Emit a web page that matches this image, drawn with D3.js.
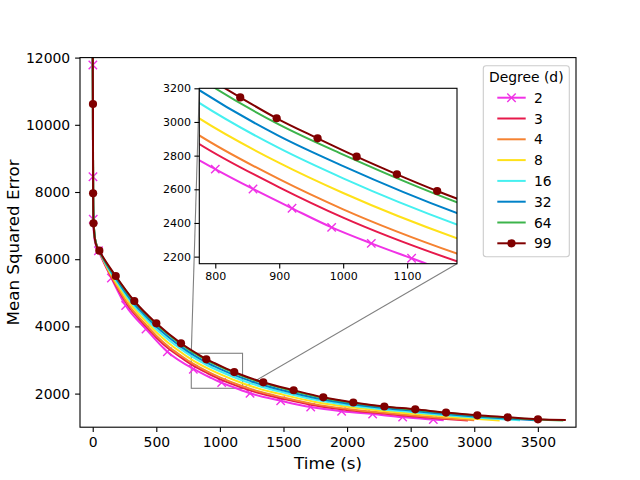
<!DOCTYPE html>
<html><head><meta charset="utf-8">
<script src="https://cdn.jsdelivr.net/npm/d3@7"></script>
<style>body{margin:0;background:#fff} svg{font-family:"DejaVu Sans",sans-serif}</style>
</head><body><svg id="c" width="640" height="480"></svg>
<script>
// ---------- data ----------
const degrees = ["2","3","4","8","16","32","64","99"];
const colors  = ["#f032e6","#e6194b","#f58231","#ffe119","#46f0f0","#0082c8","#3cb44b","#800000"];
const xTicks = [0,500,1000,1500,2000,2500,3000,3500];
const yTicks = [2000,4000,6000,8000,10000,12000];
const insetXTicks = [800,900,1000,1100];
const insetYTicks = [2200,2400,2600,2800,3000,3200];

// [time (s), MSE]
const mse_d2 = [[0,12400],[1,11780],[2,8455],[4,7187],[10,6750],[20,6480],[45,6250],[147,5440],[259,4620],[419,3923],[587,3247],[800,2720],[859,2602],[920,2487],[982,2374],[1044,2279],[1107,2190],[1237,2010],[1478,1789],[1714,1600],[1957,1475],[2201,1390],[2437,1300],[2678,1228],[2760,1205]];
const mse_d3 = [[0,12400],[2,9500],[4,7600],[8,7080],[15,6700],[25,6480],[50,6260],[100,5815],[200,5097],[300,4503],[400,4079],[500,3672],[600,3328],[700,3062],[775,2869],[900,2612],[1000,2432],[1178,2172],[1300,2024],[1500,1842],[1750,1643],[2000,1515],[2250,1419],[2500,1329],[2750,1252],[2950,1199]];
const mse_d4 = [[0,12400],[2,9500],[4,7600],[8,7080],[15,6700],[25,6480],[50,6260],[100,5829],[200,5134],[300,4549],[400,4125],[500,3723],[600,3383],[700,3113],[775,2920],[900,2660],[1000,2481],[1178,2218],[1300,2068],[1500,1882],[1750,1679],[2000,1545],[2250,1445],[2500,1355],[2750,1276],[3000,1209]];
const mse_d8 = [[0,12400],[2,9500],[4,7600],[8,7080],[15,6700],[25,6480],[50,6260],[100,5857],[200,5208],[300,4641],[400,4218],[500,3826],[600,3492],[700,3215],[775,3021],[900,2757],[1000,2578],[1178,2309],[1300,2156],[1500,1962],[1750,1752],[2000,1606],[2250,1498],[2500,1408],[2750,1323],[3000,1252],[3200,1203]];
const mse_d16 = [[0,12400],[2,9500],[4,7600],[8,7080],[15,6700],[25,6480],[50,6260],[100,5882],[200,5274],[300,4724],[400,4302],[500,3918],[600,3590],[700,3307],[775,3113],[900,2844],[1000,2665],[1178,2391],[1300,2235],[1500,2034],[1750,1817],[2000,1661],[2250,1545],[2500,1455],[2750,1366],[3000,1290],[3250,1229],[3360,1204]];
const mse_d32 = [[0,12400],[2,9500],[4,7600],[8,7080],[15,6700],[25,6480],[50,6260],[100,5903],[200,5330],[300,4793],[400,4372],[500,3995],[600,3671],[700,3383],[775,3189],[900,2916],[1000,2738],[1178,2459],[1300,2301],[1500,2094],[1750,1871],[2000,1707],[2250,1585],[2500,1495],[2750,1401],[3000,1322],[3250,1259],[3480,1204]];
const mse_d64 = [[0,12400],[2,9500],[4,7600],[8,7080],[15,6700],[25,6480],[50,6260],[100,5923],[200,5382],[300,4857],[400,4437],[500,4066],[600,3748],[700,3455],[775,3260],[900,2984],[1000,2806],[1178,2523],[1300,2363],[1500,2150],[1750,1922],[2000,1750],[2250,1622],[2500,1532],[2750,1434],[3000,1351],[3250,1288],[3500,1226],[3700,1203]];
const mse_d99 = [[0,12400],[2,10619],[3,7961],[6,7068],[12,6750],[25,6450],[52,6253],[181,5500],[327,4756],[500,4092],[694,3497],[839,3146],[896,3022],[960,2903],[1021,2794],[1084,2689],[1147,2590],[1341,2336],[1580,2100],[1813,1890],[2049,1735],[2293,1616],[2536,1533],[2778,1435],[3024,1354],[3263,1295],[3501,1235],[3720,1212]];

// marker positions (main plot and inset)
const markers_d2_main  = [[1,11780],[2,8455],[4,7187],[45,6250],[147,5440],[259,4620],[419,3923],[587,3247],[791,2723],[1014,2330],[1237,2010],[1478,1789],[1714,1600],[1957,1475],[2201,1390],[2437,1300],[2678,1228]];
const markers_d2_inset = [[800,2720],[859,2602],[920,2487],[982,2374],[1044,2279],[1107,2190]];
const markers_d99_main = [[2,10619],[3,7961],[6,7068],[52,6253],[181,5500],[327,4756],[500,4092],[694,3497],[893,3021],[1113,2640],[1341,2336],[1580,2100],[1813,1890],[2049,1735],[2293,1616],[2536,1533],[2778,1435],[3024,1354],[3263,1295],[3501,1235]];
const markers_d99_inset = [[839,3146],[896,3022],[960,2903],[1021,2794],[1084,2689],[1147,2590]];

const series = [mse_d2,mse_d3,mse_d4,mse_d8,mse_d16,mse_d32,mse_d64,mse_d99];

// ---------- layout ----------
const svg = d3.select("#c");
const M = {l:80, r:576, t:57.6, b:427.2};
const I = {l:199.3, r:457, t:88.3, b:263.7};
const x = d3.scaleLinear([-100,3800],[M.l,M.r]);
const y = d3.scaleLinear([1000,12000],[M.b,M.t]);
const xi = d3.scaleLinear([775,1178],[I.l,I.r]);
const yi = d3.scaleLinear([2158,3200],[I.b,I.t]);

const defs = svg.append("defs");
defs.append("clipPath").attr("id","cm").append("rect").attr("x",M.l).attr("y",M.t).attr("width",M.r-M.l).attr("height",M.b-M.t);
defs.append("clipPath").attr("id","ci").append("rect").attr("x",I.l).attr("y",I.t).attr("width",I.r-I.l).attr("height",I.b-I.t);

const xPath = "M-4.2,-4.2L4.2,4.2M-4.2,4.2L4.2,-4.2";

function styleAxis(g, fs){
  g.select(".domain").remove();
  g.selectAll(".tick line").attr("stroke","#000").attr("stroke-width",1.1);
  g.selectAll(".tick text").attr("font-size",fs).attr("fill","#000").attr("font-family","DejaVu Sans");
}

function drawPlot(root, sx, sy, clipId, mk2, mk99){
  const line = d3.line().x(d=>sx(d[0])).y(d=>sy(d[1])).curve(d3.curveMonotoneX);
  const g = root.append("g").attr("clip-path",`url(#${clipId})`);
  series.forEach((s,i)=>{
    g.append("path").attr("d",line(s)).attr("fill","none").attr("stroke",colors[i]).attr("stroke-width",2).attr("stroke-linejoin","round");
    if(i===0){
      g.selectAll(null).data(mk2).enter().append("path")
        .attr("transform",d=>`translate(${sx(d[0])},${sy(d[1])})`).attr("d",xPath)
        .attr("stroke",colors[0]).attr("stroke-width",1.4).attr("fill","none");
    }
    if(i===7){
      g.selectAll(null).data(mk99).enter().append("circle")
        .attr("cx",d=>sx(d[0])).attr("cy",d=>sy(d[1])).attr("r",4.1).attr("fill",colors[7]);
    }
  });
}

// zoom indicator (below data)
const gray = "#808080";
svg.append("rect").attr("x",x(775)).attr("y",y(3200)).attr("width",x(1178)-x(775)).attr("height",y(2158)-y(3200))
  .attr("fill","none").attr("stroke",gray).attr("stroke-width",1.1);
svg.append("line").attr("x1",x(775)).attr("y1",y(3200)).attr("x2",I.l).attr("y2",I.t).attr("stroke",gray).attr("stroke-width",1.1);
svg.append("line").attr("x1",x(1178)).attr("y1",y(2158)).attr("x2",I.r).attr("y2",I.b).attr("stroke",gray).attr("stroke-width",1.1);

// main plot
drawPlot(svg, x, y, "cm", markers_d2_main, markers_d99_main);
svg.append("rect").attr("x",M.l).attr("y",M.t).attr("width",M.r-M.l).attr("height",M.b-M.t).attr("fill","none").attr("stroke","#000").attr("stroke-width",1.1);
svg.append("g").attr("transform",`translate(0,${M.b})`)
  .call(d3.axisBottom(x).tickValues(xTicks).tickFormat(d3.format("d")).tickSize(4.9).tickPadding(4.9)).call(g=>styleAxis(g,"13.9px"));
svg.append("g").attr("transform",`translate(${M.l},0)`)
  .call(d3.axisLeft(y).tickValues(yTicks).tickFormat(d3.format("d")).tickSize(4.9).tickPadding(4.9)).call(g=>styleAxis(g,"13.9px"));
svg.append("text").attr("x",(M.l+M.r)/2).attr("y",469).attr("text-anchor","middle").attr("font-size","16.7px").text("Time (s)");
svg.append("text").attr("transform",`translate(19,${(M.t+M.b)/2}) rotate(-90)`).attr("text-anchor","middle").attr("font-size","16.7px").text("Mean Squared Error");

// inset
svg.append("rect").attr("x",I.l).attr("y",I.t).attr("width",I.r-I.l).attr("height",I.b-I.t).attr("fill","#fff");
drawPlot(svg, xi, yi, "ci", markers_d2_inset, markers_d99_inset);
svg.append("rect").attr("x",I.l).attr("y",I.t).attr("width",I.r-I.l).attr("height",I.b-I.t).attr("fill","none").attr("stroke","#000").attr("stroke-width",1.1);
svg.append("g").attr("transform",`translate(0,${I.b})`)
  .call(d3.axisBottom(xi).tickValues(insetXTicks).tickFormat(d3.format("d")).tickSize(4.9).tickPadding(3.5)).call(g=>styleAxis(g,"11px"));
svg.append("g").attr("transform",`translate(${I.l},0)`)
  .call(d3.axisLeft(yi).tickValues(insetYTicks).tickFormat(d3.format("d")).tickSize(4.9).tickPadding(3.5)).call(g=>styleAxis(g,"11px"));

// legend
const L = {x:483.3, y:65.7, w:86, h:191};
const lg = svg.append("g");
lg.append("rect").attr("x",L.x).attr("y",L.y).attr("width",L.w).attr("height",L.h).attr("rx",2.8)
  .attr("fill","#fff").attr("fill-opacity",0.8).attr("stroke","#cccccc").attr("stroke-width",1.1);
lg.append("text").attr("x",L.x+L.w/2).attr("y",76.7).attr("dominant-baseline","central").attr("text-anchor","middle").attr("font-size","13.9px").text("Degree (d)");
degrees.forEach((d,i)=>{
  const yy = 97.7 + i*20.8;
  lg.append("line").attr("x1",497.3).attr("x2",525.7).attr("y1",yy).attr("y2",yy).attr("stroke",colors[i]).attr("stroke-width",2);
  if(i===0) lg.append("path").attr("transform",`translate(511.5,${yy})`).attr("d",xPath).attr("stroke",colors[0]).attr("stroke-width",1.4).attr("fill","none");
  if(i===7) lg.append("circle").attr("cx",511.5).attr("cy",yy).attr("r",4.1).attr("fill",colors[7]);
  lg.append("text").attr("x",534).attr("y",yy).attr("dominant-baseline","central").attr("font-size","13.9px").text(d);
});
</script></body></html>
